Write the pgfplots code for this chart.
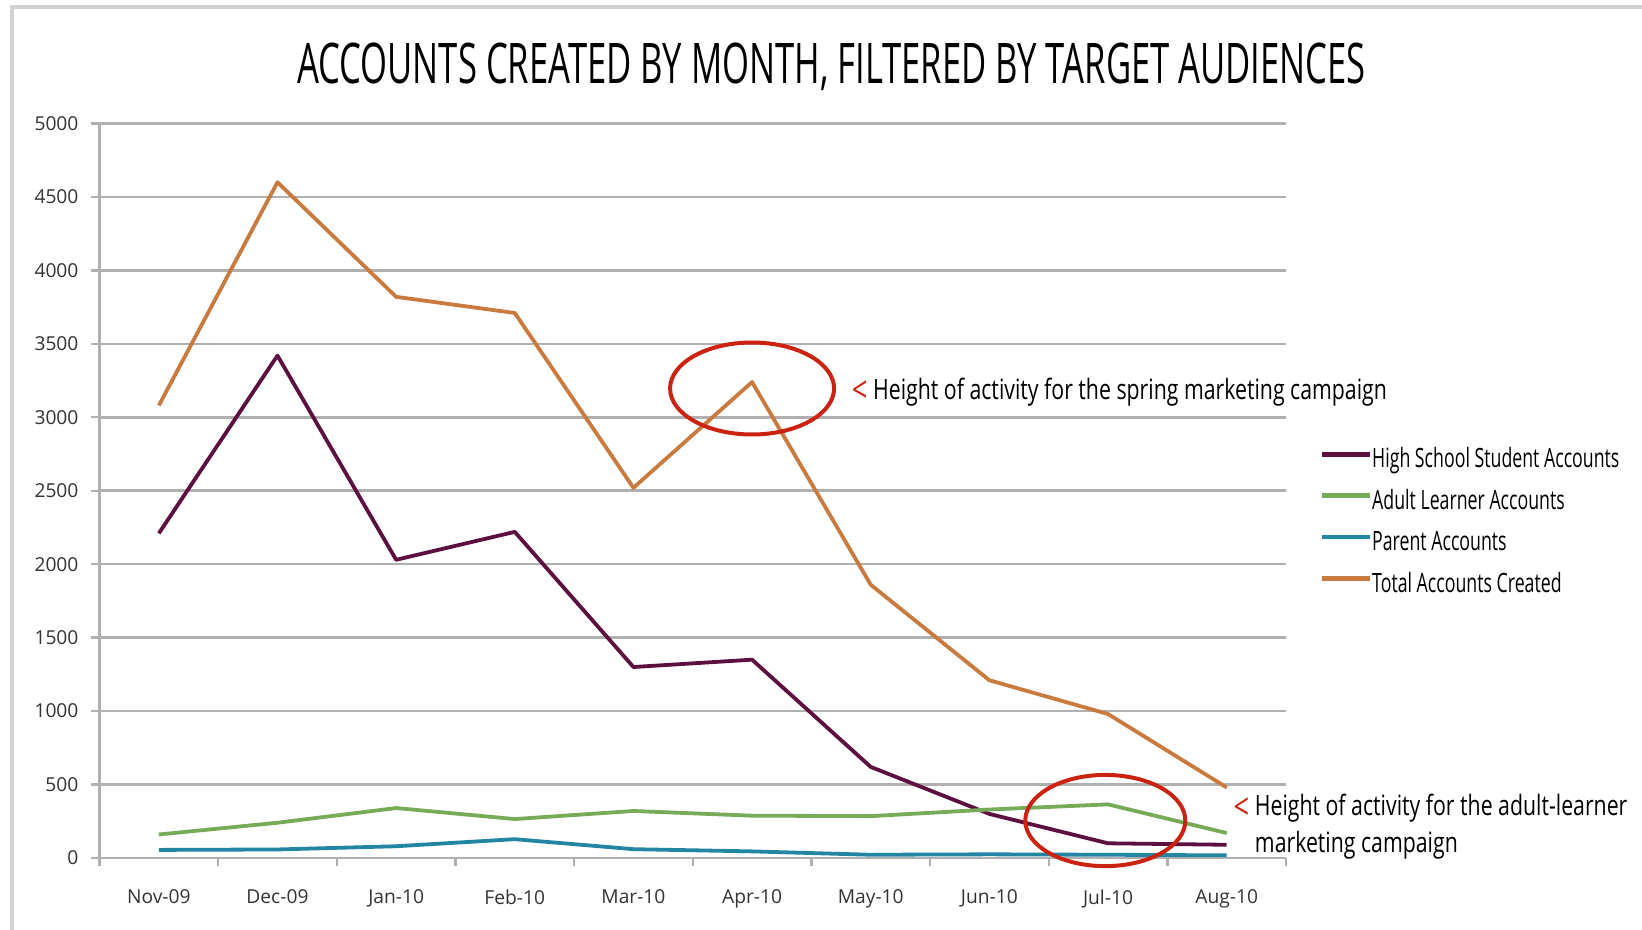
\documentclass[border=0pt]{standalone}
\usepackage{fontspec}
\setmainfont{Open Sans}
\newfontfamily\titlefont{Open Sans}[FakeStretch=0.618]
\newfontfamily\legfont{Open Sans}[FakeStretch=0.667]
\newfontfamily\annfont{Open Sans}[FakeStretch=0.76]
\usepackage{pgfplots}
\pgfplotsset{compat=1.18}
\definecolor{hs}{HTML}{5C1040}
\definecolor{adult}{HTML}{76AC58}
\definecolor{parent}{HTML}{2286A3}
\definecolor{total}{HTML}{C97A3F}
\definecolor{ann}{HTML}{CC2211}
\definecolor{gridc}{HTML}{B0B0B0}
\newcommand{\lt}{\raisebox{-1.6pt}{\textcolor{ann}{\fontsize{18}{18}\selectfont<}}\hspace{0.2em}}
\begin{document}
\begin{tikzpicture}
\path[use as bounding box, fill=white] (-49.75pt,-36pt) rectangle (771.25pt,429pt);
\draw[gray!35, line width=2pt] (-43.5pt,-36pt) -- (-43.5pt,425.5pt) -- (771.25pt,425.5pt);
\begin{axis}[
  at={(0pt,0pt)}, anchor=south west, scale only axis,
  width=593.25pt, height=367.25pt,
  xmin=-0.5, xmax=9.5, ymin=0, ymax=5000,
  clip=false,
  axis lines=left, axis line style={-, draw=gridc, line width=1.3pt},
  ymajorgrids, grid style={draw=gridc, line width=1.3pt},
  ytick={0,500,...,5000},
  xtick={-0.5,0.5,...,9.5},
  x tick label as interval,
  xticklabels={Nov-09,Dec-09,Jan-10,Feb-10,Mar-10,Apr-10,May-10,Jun-10,Jul-10,Aug-10},
  tick align=outside, major tick length=4pt,
  tick style={draw=gridc, line width=1.2pt},
  /pgf/number format/assume math mode=true,
  /pgf/number format/1000 sep={},
  ticklabel style={font=\fontsize{9.6}{11}\selectfont, text=black!80},
  xticklabel style={yshift=-8.3pt},
  yticklabel style={xshift=-3pt},
  legend style={draw=none, fill=none, at={(1.0278,0.5575)}, anchor=north west,
    font=\legfont\fontsize{13.3}{15}\selectfont, row sep=8.3pt, inner sep=0pt,
    nodes={inner sep=0pt, text height=9.5pt, text depth=2.9pt}},
  legend cell align=left,
  legend image code/.code={\draw[#1, line width=2.4pt] (0pt,3.6pt) -- (24pt,3.6pt);},
]
\addplot[hs, line width=1.9pt, line join=round] coordinates {(0,2210) (1,3420) (2,2030) (3,2220) (4,1300) (5,1350) (6,620) (7,300) (8,100) (9,90)};
\addlegendentry{High School Student Accounts}
\addplot[adult, line width=1.9pt, line join=round] coordinates {(0,160) (1,240) (2,340) (3,265) (4,320) (5,288) (6,285) (7,330) (8,365) (9,170)};
\addlegendentry{Adult Learner Accounts}
\addplot[parent, line width=1.9pt, line join=round] coordinates {(0,55) (1,58) (2,80) (3,128) (4,60) (5,45) (6,22) (7,25) (8,22) (9,18)};
\addlegendentry{Parent Accounts}
\addplot[total, line width=1.9pt, line join=round] coordinates {(0,3080) (1,4600) (2,3820) (3,3710) (4,2520) (5,3240) (6,1860) (7,1210) (8,980) (9,480)};
\addlegendentry{Total Accounts Created}
\draw[ann, line width=2pt] (axis cs:5,3196) ellipse [x radius=41pt, y radius=23pt];
\draw[ann, line width=2pt] (axis cs:7.977,255) ellipse [x radius=40pt, y radius=22.8pt];
\node[anchor=base, inner sep=0pt, font=\titlefont\fontsize{28}{30}\selectfont] at (rel axis cs:0.617,1.0551) {ACCOUNTS CREATED BY MONTH, FILTERED BY TARGET AUDIENCES};
\node[anchor=base west, inner sep=0pt, font=\annfont\fontsize{14}{16}\selectfont] at (rel axis cs:0.6338,0.6242) {\lt Height of activity for the spring marketing campaign};
\node[anchor=base west, inner sep=0pt, font=\annfont\fontsize{14}{16}\selectfont] at (rel axis cs:0.9555,0.0572) {\lt Height of activity for the adult-learner};
\node[anchor=base west, inner sep=0pt, font=\annfont\fontsize{14}{16}\selectfont] at (rel axis cs:0.9735,0.0068) {marketing campaign};
\end{axis}
\end{tikzpicture}
\end{document}
